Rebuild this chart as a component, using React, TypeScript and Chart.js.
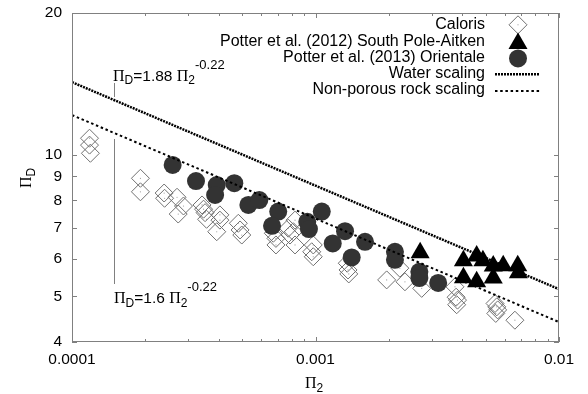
import React, { useEffect, useRef } from "react";
import { Chart, registerables } from "chart.js";

Chart.register(...registerables);

// ---------- data ----------
const xTickValues = [0.0001, 0.001, 0.01];
const xTickLabels = ["0.0001", "0.001", "0.01"];
const xMinorTicks = [0.0002, 0.0003, 0.0004, 0.0005, 0.0006, 0.0007, 0.0008, 0.0009, 0.002, 0.003, 0.004, 0.005, 0.006, 0.007, 0.008, 0.009];
const yTickValues = [4, 5, 6, 7, 8, 9, 10, 20];
const yTickLabels = ["4", "5", "6", "7", "8", "9", "10", "20"];

const calorisX = [1.18e-4, 1.18e-4, 1.19e-4, 1.91e-4, 1.91e-4, 2.39e-4, 2.4e-4, 2.7e-4, 2.87e-4, 2.73e-4, 3.42e-4, 3.47e-4, 3.52e-4, 3.57e-4, 3.93e-4, 4.05e-4, 4.05e-4, 4.82e-4, 4.9e-4, 4.98e-4, 6.71e-4, 6.88e-4, 6.88e-4, 7.73e-4, 7.86e-4, 8.24e-4, 8.11e-4, 8.24e-4, 9.79e-4, 9.65e-4, 9.79e-4, 1.35e-3, 1.36e-3, 1.37e-3, 1.96e-3, 2.22e-3, 2.33e-3, 2.73e-3, 3.74e-3, 3.78e-3, 3.83e-3, 3.8e-3, 5.46e-3, 5.55e-3, 5.6e-3, 5.5e-3, 6.59e-3];
const calorisY = [10.84, 10.48, 10.07, 8.91, 8.34, 8.29, 8.08, 8.12, 7.78, 7.48, 7.82, 7.66, 7.53, 7.29, 6.86, 7.45, 7.26, 7.15, 6.92, 6.75, 6.81, 6.64, 6.43, 6.98, 6.75, 7.26, 6.86, 6.43, 6.43, 6.22, 6.07, 5.88, 5.69, 5.58, 5.42, 5.74, 5.37, 5.2, 5.24, 4.98, 4.91, 4.8, 4.83, 4.75, 4.68, 4.6, 4.45];

const spaX = [2.69e-3, 4.05e-3, 4.59e-3, 4.87e-3, 5.37e-3, 5.9e-3, 6.77e-3, 4.05e-3, 4.59e-3, 5.37e-3, 6.81e-3];
const spaY = [6.19, 5.95, 6.09, 5.95, 5.8, 5.81, 5.81, 5.48, 5.37, 5.47, 5.61];

const orientaleX = [2.59e-4, 3.23e-4, 3.93e-4, 3.87e-4, 4.64e-4, 5.3e-4, 5.88e-4, 7.03e-4, 6.63e-4, 9.25e-4, 9.4e-4, 1.061e-3, 1.177e-3, 1.322e-3, 1.408e-3, 1.597e-3, 2.12e-3, 2.12e-3, 2.67e-3, 2.67e-3, 3.19e-3];
const orientaleY = [9.51, 8.79, 8.62, 8.21, 8.7, 7.82, 8.01, 7.57, 7.06, 7.2, 6.95, 7.57, 6.48, 6.88, 6.05, 6.53, 6.22, 5.98, 5.64, 5.47, 5.34];

const scalingX = [0.0001, 0.01];
const waterY = [14.26, 5.18];
const rockY = [12.14, 4.41];

const legendLabels = [
  "Caloris",
  "Potter et al. (2012) South Pole-Aitken",
  "Potter et al. (2013) Orientale",
  "Water scaling",
  "Non-porous rock scaling",
];

// ---------- styles ----------
const SANS = "'Liberation Sans'";
const SERIF = "'Liberation Serif'";
const AXIS_GRAY = "#808080";
const DIAMOND_GRAY = "#707070";
const CIRCLE_FILL = "#333333";

const pts = (xs: number[], ys: number[]) => xs.map((x, i) => ({ x, y: ys[i] }));

type Part = { text: string; font: string; dy: number };

function drawParts(ctx: CanvasRenderingContext2D, parts: Part[], x: number, y: number) {
  let cx = x;
  for (const p of parts) {
    ctx.font = p.font;
    ctx.fillText(p.text, cx, y + p.dy);
    cx += ctx.measureText(p.text).width;
  }
}

function diamond(ctx: CanvasRenderingContext2D, x: number, y: number, r: number) {
  ctx.beginPath();
  ctx.moveTo(x, y - r);
  ctx.lineTo(x + r, y);
  ctx.lineTo(x, y + r);
  ctx.lineTo(x - r, y);
  ctx.closePath();
}

const overlayPlugin = {
  id: "overlay",
  afterDatasetsDraw(chart: any) {
    const ctx: CanvasRenderingContext2D = chart.ctx;
    const { left, right, top, bottom } = chart.chartArea;
    const xs = chart.scales.x;
    const ys = chart.scales.y;
    ctx.save();

    // frame
    ctx.strokeStyle = AXIS_GRAY;
    ctx.lineWidth = 1;
    ctx.strokeRect(left + 0.5, top + 0.5, right - left - 1, bottom - top - 1);

    // inward ticks
    ctx.beginPath();
    const tick = (len: number, v: number, axis: "x" | "y") => {
      if (axis === "x") {
        const p = Math.round(xs.getPixelForValue(v)) + 0.5;
        ctx.moveTo(p, bottom);
        ctx.lineTo(p, bottom - len);
        ctx.moveTo(p, top);
        ctx.lineTo(p, top + len);
      } else {
        const p = Math.round(ys.getPixelForValue(v)) + 0.5;
        ctx.moveTo(left, p);
        ctx.lineTo(left + len, p);
        ctx.moveTo(right, p);
        ctx.lineTo(right - len, p);
      }
    };
    xTickValues.forEach((v) => tick(5, v, "x"));
    xMinorTicks.forEach((v) => tick(3, v, "x"));
    yTickValues.forEach((v) => tick(5, v, "y"));
    ctx.stroke();

    // legend
    const legX = 485;
    const symX = 518;
    const rows = [24.8, 41.1, 57.4, 73.7, 90];
    ctx.fillStyle = "#000";
    ctx.textAlign = "right";
    ctx.textBaseline = "middle";
    ctx.font = `16px ${SANS}`;
    legendLabels.forEach((t, i) => ctx.fillText(t, legX, rows[i]));
    // Caloris symbol
    ctx.strokeStyle = DIAMOND_GRAY;
    ctx.lineWidth = 1;
    diamond(ctx, symX, rows[0], 9);
    ctx.stroke();
    ctx.fillStyle = "#999";
    ctx.fillRect(symX - 0.5, rows[0] - 0.5, 1, 1);
    // triangle
    ctx.fillStyle = "#000";
    ctx.beginPath();
    const tr = 11;
    const tcy = rows[1] + 2.5;
    ctx.moveTo(symX, tcy - tr);
    ctx.lineTo(symX + tr * 0.866, tcy + tr / 2);
    ctx.lineTo(symX - tr * 0.866, tcy + tr / 2);
    ctx.closePath();
    ctx.fill();
    // circle
    ctx.fillStyle = CIRCLE_FILL;
    ctx.beginPath();
    ctx.arc(symX, rows[2] + 1, 9, 0, Math.PI * 2);
    ctx.fill();
    // line samples
    ctx.strokeStyle = "#000";
    ctx.lineWidth = 2.5;
    ctx.setLineDash([2, 1]);
    ctx.beginPath();
    ctx.moveTo(495, rows[3] + 0.5);
    ctx.lineTo(540, rows[3] + 0.5);
    ctx.stroke();
    ctx.lineWidth = 2;
    ctx.setLineDash([2.5, 2.7]);
    ctx.beginPath();
    ctx.moveTo(495, rows[4] + 1);
    ctx.lineTo(540, rows[4] + 1);
    ctx.stroke();
    ctx.setLineDash([]);

    // annotation connector lines
    ctx.strokeStyle = AXIS_GRAY;
    ctx.lineWidth = 1;
    ctx.beginPath();
    ctx.moveTo(114.5, 83);
    ctx.lineTo(114.5, 97);
    ctx.moveTo(114.5, 139);
    ctx.lineTo(114.5, 284);
    ctx.stroke();

    // annotation texts
    ctx.fillStyle = "#000";
    ctx.textAlign = "left";
    ctx.textBaseline = "alphabetic";
    const piF = `16px ${SERIF}`;
    const mainF = `15.5px ${SANS}`;
    const subF = `12px ${SANS}`;
    const supF = `13px ${SANS}`;
    drawParts(ctx, [
      { text: "Π", font: piF, dy: 0 },
      { text: "D", font: subF, dy: 3.5 },
      { text: "=1.88 ", font: mainF, dy: 0 },
      { text: "Π", font: piF, dy: 0 },
      { text: "2", font: subF, dy: 3.5 },
      { text: "-0.22", font: supF, dy: -12 },
    ], 113, 80.5);
    drawParts(ctx, [
      { text: "Π", font: piF, dy: 0 },
      { text: "D", font: subF, dy: 3.5 },
      { text: "=1.6 ", font: mainF, dy: 0 },
      { text: "Π", font: piF, dy: 0 },
      { text: "2", font: subF, dy: 3.5 },
      { text: "-0.22", font: supF, dy: -12 },
    ], 114, 303);

    // axis titles
    drawParts(ctx, [
      { text: "Π", font: piF, dy: 0 },
      { text: "2", font: subF, dy: 3.5 },
    ], 305, 388);
    ctx.translate(31, 188);
    ctx.rotate(-Math.PI / 2);
    drawParts(ctx, [
      { text: "Π", font: piF, dy: 0 },
      { text: "D", font: subF, dy: 3.5 },
    ], 0, 0);

    ctx.restore();
  },
};

export default function App() {
  const canvasRef = useRef<HTMLCanvasElement | null>(null);

  useEffect(() => {
    const canvas = canvasRef.current;
    if (!canvas) return;
    const chart = new Chart(canvas, {
      type: "scatter",
      data: {
        datasets: [
          {
            label: legendLabels[3],
            data: pts(scalingX, waterY),
            showLine: true,
            borderColor: "#000",
            borderWidth: 2.5,
            borderDash: [2, 1],
            pointRadius: 0,
            fill: false,
            order: 0,
          },
          {
            label: legendLabels[4],
            data: pts(scalingX, rockY),
            showLine: true,
            borderColor: "#000",
            borderWidth: 2,
            borderDash: [2.5, 2.7],
            pointRadius: 0,
            fill: false,
            order: 1,
          },
          {
            label: legendLabels[2],
            data: pts(orientaleX, orientaleY),
            pointStyle: "circle",
            pointRadius: 9,
            backgroundColor: CIRCLE_FILL,
            borderColor: CIRCLE_FILL,
            borderWidth: 0,
            order: 2,
          },
          {
            label: legendLabels[1],
            data: pts(spaX, spaY),
            pointStyle: "triangle",
            pointRadius: 11,
            backgroundColor: "#000",
            borderColor: "#000",
            borderWidth: 0,
            order: 3,
          },
          {
            label: "Caloris centre",
            data: pts(calorisX, calorisY),
            pointStyle: "circle",
            pointRadius: 0.6,
            backgroundColor: "#9a9a9a",
            borderWidth: 0,
            order: 4,
          },
          {
            label: legendLabels[0],
            data: pts(calorisX, calorisY),
            pointStyle: "rectRot",
            pointRadius: 9,
            backgroundColor: "rgba(0,0,0,0)",
            borderColor: DIAMOND_GRAY,
            borderWidth: 1,
            order: 5,
          },
        ],
      },
      options: {
        responsive: false,
        devicePixelRatio: 1,
        animation: false,
        layout: { padding: { top: 13, right: 29, left: 0, bottom: 0 } },
        plugins: {
          legend: { display: false },
          tooltip: { enabled: false },
        },
        scales: {
          x: {
            type: "logarithmic",
            position: "bottom",
            min: 0.0001,
            max: 0.01,
            grid: { display: false, drawTicks: false },
            border: { display: false },
            afterBuildTicks: (s: any) => {
              s.ticks = xTickValues.map((v) => ({ value: v }));
            },
            afterFit: (s: any) => {
              s.height = 52;
              s.paddingLeft = 0;
              s.paddingRight = 0;
            },
            ticks: {
              autoSkip: false,
              maxRotation: 0,
              padding: 8,
              color: "#000",
              font: { family: "Liberation Sans", size: 15.5 },
              callback: (_v: any, i: number) => xTickLabels[i],
            },
          },
          y: {
            type: "logarithmic",
            position: "left",
            min: 4,
            max: 20,
            grid: { display: false, drawTicks: false },
            border: { display: false },
            afterBuildTicks: (s: any) => {
              s.ticks = yTickValues.map((v) => ({ value: v }));
            },
            afterFit: (s: any) => {
              s.width = 72;
              s.paddingTop = 0;
              s.paddingBottom = 0;
            },
            ticks: {
              autoSkip: false,
              padding: 10,
              color: "#000",
              font: { family: "Liberation Sans", size: 15.5 },
              callback: (_v: any, i: number) => yTickLabels[i],
            },
          },
        },
      },
      plugins: [overlayPlugin],
    } as any);
    return () => chart.destroy();
  }, []);

  return (
    <div style={{ position: "fixed", left: 0, top: 0, width: 588, height: 394, background: "#fff" }}>
      <canvas ref={canvasRef} width={588} height={394} style={{ display: "block" }} />
    </div>
  );
}
